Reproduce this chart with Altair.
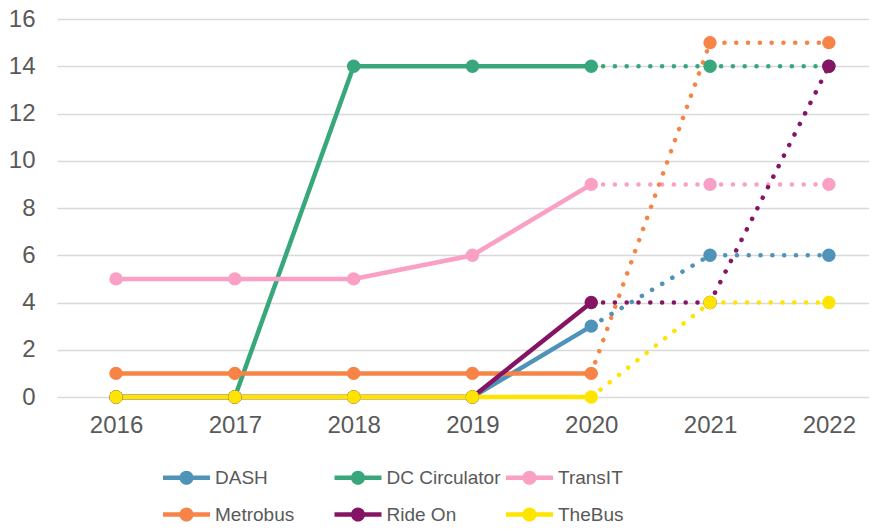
import altair as alt
import pandas as pd

years = [2016, 2017, 2018, 2019, 2020, 2021, 2022]
series = ["DASH", "DC Circulator", "TransIT", "Metrobus", "Ride On", "TheBus"]
colors = ["#4f93b8", "#38a87c", "#f9a0c4", "#f78447", "#861464", "#ffe400"]
dash = [0, 0, 0, 0, 3, 6, 6]
dc_circulator = [0, 0, 14, 14, 14, 14, 14]
transit = [5, 5, 5, 6, 9, 9, 9]
metrobus = [1, 1, 1, 1, 1, 15, 15]
ride_on = [0, 0, 0, 0, 4, 4, 14]
thebus = [0, 0, 0, 0, 0, 4, 4]
values = [dash, dc_circulator, transit, metrobus, ride_on, thebus]
solid_years = [2016, 2017, 2018, 2019, 2020]
dotted_years = [2020, 2021, 2022]

rows = []
for i, (s, vals) in enumerate(zip(series, values)):
    for y, v in zip(years, vals):
        rows.append({"series": s, "order": i, "year": y, "value": v})
df = pd.DataFrame(rows)
solid = df[df["year"].isin(solid_years)]
dotted = df[df["year"].isin(dotted_years)]

FONT_AXIS = "Liberation Sans, Arial, sans-serif"
FONT_LEG = "Liberation Sans, Arial, sans-serif"
TXT = "#595959"

xscale = alt.Scale(domain=[2015.503, 2022.338], nice=False, zero=False)
yscale = alt.Scale(domain=[0, 16], nice=False)
cscale = alt.Scale(domain=series, range=colors)

x = alt.X("year:Q", scale=xscale,
          axis=alt.Axis(values=years, format="d", title=None, grid=False, ticks=False,
                        domain=False, labelFont=FONT_AXIS, labelFontSize=24,
                        labelColor=TXT, labelPadding=16))
y = alt.Y("value:Q", scale=yscale,
          axis=alt.Axis(values=list(range(0, 17, 2)), title=None, ticks=False, domain=False,
                        grid=True, gridColor="#d9d9d9", gridWidth=1.5,
                        labelFont=FONT_AXIS, labelFontSize=24, labelColor=TXT,
                        labelPadding=22))

base_color_nolegend = alt.Color("series:N", scale=cscale, legend=None)

line_solid = alt.Chart(solid).mark_line(strokeWidth=4.5).encode(
    x=x, y=y, color=base_color_nolegend, detail="series:N",
    order=alt.Order("year:Q"))

line_dotted = alt.Chart(dotted).mark_line(strokeWidth=4.5, strokeDash=[0.1, 11.7],
                                          strokeCap="round").encode(
    x=x, y=y, color=base_color_nolegend, detail="series:N",
    order=alt.Order("year:Q"))

sym = "M-1,-0.1H1V0.1H-1Z M-0.3,0A0.3,0.3,0,1,1,0.3,0A0.3,0.3,0,1,1,-0.3,0Z"

points = alt.Chart(df).mark_circle(size=180, opacity=1).encode(
    x=x, y=y,
    color=alt.Color("series:N", scale=cscale,
                    legend=alt.Legend(orient="none", legendX=106, legendY=435,
                                      direction="horizontal", columns=3, gridAlign="all",
                                      columnPadding=4.5, rowPadding=3, padding=0,
                                      title=None, symbolType=sym, symbolSize=2209,
                                      symbolStrokeWidth=0, symbolOpacity=1,
                                      labelFont=FONT_LEG, labelFontSize=19,
                                      labelColor=TXT, labelOffset=5, labelLimit=300)),
    order=alt.Order("order:Q"))

chart = alt.layer(line_solid, line_dotted, points).resolve_legend(
    color="independent").properties(
    width=812, height=378,
    autosize=alt.AutoSizeParams(type="none"),
    padding={"left": 49, "top": 11, "right": 0, "bottom": 127},
).configure_view(stroke=None)

chart.save("out.html", embed_options={"renderer": "svg", "actions": False})
